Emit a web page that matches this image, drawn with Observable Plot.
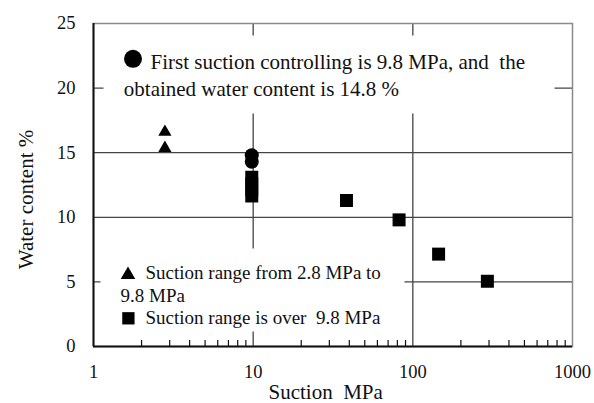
<!DOCTYPE html>
<html>
<head>
<meta charset="utf-8">
<script src="https://cdn.jsdelivr.net/npm/d3@7"></script>
<script src="https://cdn.jsdelivr.net/npm/@observablehq/plot@0.6"></script>
<style>
  body { margin: 0; background: #fff; }
  #chart svg, #chart svg text { font-family: "Liberation Serif", "DejaVu Serif", serif !important; }
</style>
</head>
<body>
<div id="chart"></div>
<script>
// Suction (MPa) and water content (%) per test series
const triSuction = [2.8, 2.8];
const triWater = [16.6, 15.35];
const circSuction = [9.8, 9.8];
const circWater = [14.8, 14.3];
const sqSuction = [9.8, 9.8, 9.8, 9.8, 38.4, 82, 145, 293];
const sqWater = [13.1, 12.6, 12.1, 11.65, 11.3, 9.8, 7.15, 5.05];

// Axis ticks and grid
const xTicks = [1, 10, 100, 1000];
const yTicks = [0, 5, 10, 15, 20, 25];
const xGrid = [10, 100];
const yGrid = [5, 10, 15, 20];
const xMinor = [2, 3, 4, 5, 6, 7, 8, 9, 20, 30, 40, 50, 60, 70, 80, 90, 200, 300, 400, 500, 600, 700, 800, 900];

// Text
const noteLine1 = "First suction controlling is 9.8 MPa, and\u00a0 the";
const noteLine2 = "obtained water content is 14.8 %";
const legendTri1 = "Suction range from 2.8 MPa to";
const legendTri2 = "9.8 MPa";
const legendSq = "Suction range is over\u00a0 9.8 MPa";
const xLabel = "Suction\u00a0\u00a0MPa";
const yLabel = "Water content %";

const toRows = (xs, ys) => xs.map((x, i) => ({x, y: ys[i]}));
const tri = toRows(triSuction, triWater);
const circ = toRows(circSuction, circWater);
const sq = toRows(sqSuction, sqWater);

const gridStyle = {stroke: "#444", strokeWidth: 1.3};
const ink = "#111";
const label = {frameAnchor: "top-left", textAnchor: "start", lineAnchor: "middle", fill: ink};

const chart = Plot.plot({
  width: 594,
  height: 403,
  marginLeft: 93,
  marginRight: 22,
  marginTop: 23,
  marginBottom: 57,
  style: {
    fontFamily: "'Liberation Serif', 'DejaVu Serif', serif",
    fontSize: "18.5px",
    color: ink,
    background: "#fff"
  },
  x: {type: "log", domain: [1, 1000]},
  y: {domain: [0, 25]},
  marks: [
    // grid
    Plot.ruleY(yGrid, gridStyle),
    Plot.ruleX(xGrid, gridStyle),
    // white boxes behind the note and the legend
    Plot.frame({fill: "white", stroke: "none", insetLeft: 10, insetRight: 18, insetTop: 12, insetBottom: 233}),
    Plot.frame({fill: "white", stroke: "none", insetLeft: 7, insetRight: 168, insetTop: 225, insetBottom: 15}),
    // plot area border and axes lines
    Plot.frame({stroke: "#8a8a8a", strokeWidth: 1.5}),
    Plot.ruleX([1], {stroke: ink, strokeWidth: 2}),
    Plot.ruleY([0], {stroke: ink, strokeWidth: 2}),
    Plot.tickX(xMinor, {x: d => d, insetTop: 317, stroke: ink, strokeWidth: 1.2}),
    Plot.axisX(xTicks, {tickSize: 0, tickPadding: 18, tickFormat: d => String(d), label: null}),
    Plot.axisY(yTicks, {tickSize: 0, tickPadding: 18, label: null}),
    // data
    Plot.dot(tri, {x: "x", y: "y", symbol: "triangle", r: 4.9, fill: "black", stroke: "none"}),
    Plot.dot(circ, {x: "x", y: "y", symbol: "circle", r: 7, fill: "black", stroke: "none"}),
    Plot.dot(sq, {x: "x", y: "y", symbol: "square", r: 7.33, fill: "black", stroke: "none"}),
    // note
    Plot.dot([0], {frameAnchor: "top-left", dx: 39.5, dy: 35.3, r: 9, symbol: "circle", fill: "black", stroke: "none"}),
    Plot.text([noteLine1], {...label, dx: 57, dy: 38.3, fontSize: 21}),
    Plot.text([noteLine2], {...label, dx: 30.3, dy: 65.3, fontSize: 21}),
    // legend
    Plot.dot([0], {frameAnchor: "top-left", dx: 34.5, dy: 251.4, r: 5.4, symbol: "triangle", fill: "black", stroke: "none"}),
    Plot.text([legendTri1], {...label, dx: 52, dy: 249.2, fontSize: 19}),
    Plot.text([legendTri2], {...label, dx: 27, dy: 272.6, fontSize: 19}),
    Plot.dot([0], {frameAnchor: "top-left", dx: 34.9, dy: 294.8, r: 6.94, symbol: "square", fill: "black", stroke: "none"}),
    Plot.text([legendSq], {...label, dx: 52, dy: 294.2, fontSize: 19}),
    // axis titles
    Plot.text([xLabel], {...label, frameAnchor: "bottom-left", dx: 175, dy: 45.8, fontSize: 21}),
    Plot.text([yLabel], {frameAnchor: "left", textAnchor: "middle", lineAnchor: "middle", dx: -67, dy: 14.5, rotate: -90, fontSize: 21, fill: ink})
  ]
});

document.getElementById("chart").append(chart);
</script>
</body>
</html>
